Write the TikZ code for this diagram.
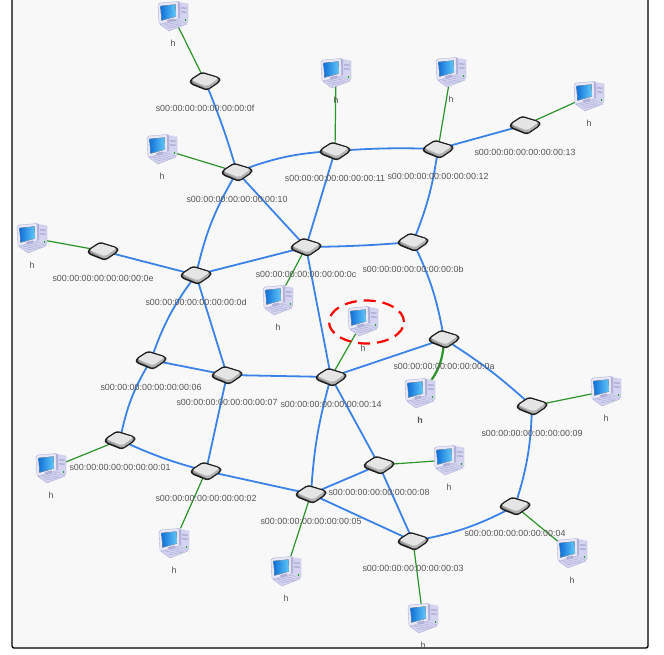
\documentclass[tikz,border=0pt]{standalone}
\usepackage{fontspec}
\setmainfont{Liberation Sans}
\usetikzlibrary{backgrounds,shapes.geometric}
\definecolor{linkblue}{HTML}{3B82E8}
\definecolor{hostgreen}{HTML}{2A9428}
\definecolor{panel}{HTML}{F8F8F8}
\definecolor{labelgray}{HTML}{555555}
\definecolor{lav}{HTML}{D4D4F0}
\definecolor{lavdark}{HTML}{B0B0D8}
\definecolor{lavlight}{HTML}{E8E8F8}
\definecolor{scrA}{HTML}{1070D8}
\definecolor{scrB}{HTML}{60C8F8}
\newcommand{\hosticon}{%
 \begin{scope}[shift={(path picture bounding box.center)}]
  % tower
  \fill[draw=lavdark,line width=.4pt,fill=lav] (3,-14) -- (15,-12) -- (15,6) -- (3,11) -- cycle;
  \fill[fill=lavlight] (3,-14) -- (15,-12) -- (13,-13) -- (5,-15) -- cycle;
  \fill[fill=lavdark] (8,-9) -- (13.5,-8.5) -- (13.5,-7) -- (8,-7.5) -- cycle;
  \fill[fill=lavdark] (8,-5) -- (13.5,-4.5) -- (13.5,-3) -- (8,-3.5) -- cycle;
  \fill[green!60!black] (12.5,4) circle (.8);
  % monitor
  \fill[draw=lavdark,line width=.4pt,fill=lavlight] (-15,-11) -- (-13,-13) -- (5,-14.5) -- (5.5,2.5) -- (-12,8) -- (-14,7) -- cycle;
  \fill[fill=lavdark] (5,-14.5) -- (7,-13.5) -- (7,2) -- (5.5,2.5) -- cycle;
  \fill[left color=scrA,right color=scrB,draw=black!30,line width=.2pt] (-12.5,-10) -- (2.5,-11.5) -- (3,0.5) -- (-11.5,4.5) -- cycle;
  % stand and keyboard
  \fill[fill=lavdark] (-6,4) -- (1,2.5) -- (2,6) -- (-5,8) -- cycle;
  \fill[draw=lavdark,line width=.4pt,fill=lav] (-13,8.5) -- (6,4) -- (14,8) -- (-4,15) -- cycle;
  \draw[lavdark,line width=.5pt] (-9,9) -- (6,6) (-7,10.5) -- (8.5,7.5) (-5,12) -- (10,8.8);
 \end{scope}}
\newcommand{\switchicon}{%
 \begin{scope}[shift={(path picture bounding box.center)}]
  \fill[black!45,rounded corners=2.5pt,draw=black!88,line width=1.5pt,line join=round]
    (-14.5,-1) -- (-3,-8.5) -- (14.5,-3) -- (14.5,0.5) -- (2,9) -- (-14.5,2.5) -- cycle;
  \fill[black!30,rounded corners=2pt] (-13.5,0) -- (2,8.2) -- (13.6,0.3) -- (13.5,-2.5) -- (2,4) -- cycle;
  \fill[black!10,rounded corners=2pt] (-13.6,-0.8) -- (-3,-7.7) -- (13.6,-2.8) -- (2,5.4) -- cycle;
 \end{scope}}
\tikzset{
  x=1pt,y=-1pt,
  hostnode/.style={rectangle,inner sep=0pt,minimum width=33pt,minimum height=33pt,path picture={\hosticon}},
  switchnode/.style={rectangle,inner sep=0pt,minimum width=33pt,minimum height=21pt,path picture={\switchicon}},
  lab/.style={font=\fontsize{8.9}{10}\selectfont,text=labelgray,inner sep=0pt},
  trunk/.style={draw=linkblue,line width=1.8pt},
  access/.style={draw=hostgreen,line width=1.2pt},
  accessthick/.style={draw=hostgreen,line width=2.2pt},
}
\begin{document}
\begin{tikzpicture}
\useasboundingbox (0,0) rectangle (664,655);
% switches
\foreach \n/\x/\y in {0f/205/81,10/237/172,11/335/151,12/438/149,13/525/125,0b/413/242,0c/306/247,0d/196/275,0e/103/251,06/151/360,07/227/375,14/331/377,0a/444/339,09/532/406,08/379/465,01/120/440,02/206/471,05/311/494,03/413/541,04/515/506}{
  \node[switchnode] (s\n) at (\x,\y) {};
  \pgfmathsetmacro{\ly}{\y+27}
  \node[lab] (ls\n) at (\x,\ly) {s00:00:00:00:00:00:00:\n};
}
% hosts
\foreach \n/\x/\y in {0f/173/16,10/162/149,0e/32/238,11/336/73,12/451/72,13/589/96,0c/278/300,14/363/321,09/606/391,08/449/460,04/572/553,03/423/618,05/286/571,02/174/543,01/51/468}{
  \node[hostnode] (h\n) at (\x,\y) {};
  \pgfmathsetmacro{\ly}{\y+27}
  \node[lab] (lh\n) at (\x,\ly) {h};
}
\node[hostnode] (h0a) at (420,393) {};
\node[lab] (lh0a) at (420,420) {\textbf{h}};
\node[draw=red,line width=2.2pt,dash pattern=on 12pt off 7pt,ellipse,minimum width=75pt,minimum height=43pt,inner sep=0pt] (mark) at (366.5,322) {};
\begin{pgfonlayer}{background}
  \fill[white] (0,0) rectangle (664,655);
  \draw[black,line width=1.3pt,fill=panel,rounded corners=2pt] (12,-6) -- (12,648) -- (648,648) -- (648,-6);
  \foreach \a/\b in {0f/0f,10/10,0e/0e,11/11,12/12,13/13,0c/0c,14/14,09/09,08/08,04/04,03/03,05/05,02/02,01/01}{
    \draw[access] (s\a.center) -- (h\b.center);
  }
  \draw[accessthick] (s0a.center) to[bend left=22] (h0a.center);
  \foreach \a/\b in {12/13,10/0c,0c/0d,0e/0d,0d/07,06/07,07/14,07/02,0c/14,11/0c,02/05,14/08,14/0a,05/08,05/03,08/03}{
    \draw[trunk] (s\a.center) -- (s\b.center);
  }
  \foreach \a/\b/\c in {0f/10/-3,10/11/-9,11/12/-3,12/0b/-7,0b/0c/-2,0b/0a/-8,10/0d/9,0d/06/9,06/01/10,01/02/5,14/05/6,03/04/9,04/09/8,09/0a/5}{
    \draw[trunk] (s\a.center) to[bend right=\c] (s\b.center);
  }
\end{pgfonlayer}
\end{tikzpicture}
\end{document}
